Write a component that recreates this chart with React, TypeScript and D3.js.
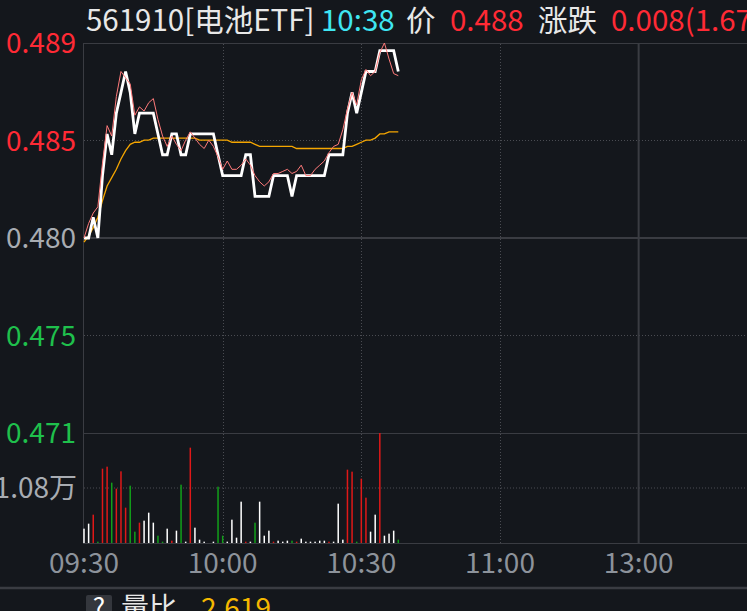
import React from "react";
import * as d3 from "d3";

// ---------- data ----------
const timeTickLabels = ["09:30", "10:00", "10:30", "11:00", "13:00"];
const timeTickMinutes = [0, 30, 60, 90, 120];
const priceLabels = ["0.489", "0.485", "0.480", "0.475", "0.471"];
const preClose = 0.48;
const priceSpan = 0.00937;
const volMax = 21600;
const volLabel = "1.08万";

// per-minute price from 09:30 (index = minutes since 09:30)
const lastPrice = [
  0.48, 0.48, 0.481, 0.48, 0.483, 0.485, 0.484, 0.486, 0.487, 0.488,
  0.487, 0.485, 0.486, 0.486, 0.486, 0.486, 0.485, 0.484, 0.484, 0.485,
  0.485, 0.484, 0.484, 0.485, 0.485, 0.485, 0.485, 0.485, 0.485, 0.484,
  0.483, 0.483, 0.483, 0.483, 0.483, 0.484, 0.484, 0.482, 0.482, 0.482,
  0.482, 0.483, 0.483, 0.483, 0.483, 0.482, 0.483, 0.483, 0.483, 0.483,
  0.483, 0.483, 0.483, 0.484, 0.484, 0.484, 0.484, 0.486, 0.487, 0.486,
  0.487, 0.488, 0.488, 0.488, 0.489, 0.489, 0.489, 0.489, 0.488,
];

const finePrice = [
  0.48, 0.4807, 0.4812, 0.4815, 0.4836, 0.4854, 0.4849, 0.4868, 0.488, 0.4877,
  0.4874, 0.4859, 0.4863, 0.4861, 0.4865, 0.4867, 0.4857, 0.4849, 0.4844, 0.4849,
  0.4845, 0.4842, 0.4847, 0.4851, 0.4848, 0.4845, 0.4843, 0.4847, 0.4844, 0.4839,
  0.4833, 0.4837, 0.4833, 0.4833, 0.4835, 0.4838, 0.4835, 0.483, 0.4827, 0.4825,
  0.4827, 0.4831, 0.4831, 0.4832, 0.4833, 0.4831, 0.4832, 0.4835, 0.483, 0.483,
  0.4833, 0.4835, 0.4837, 0.4841, 0.4844, 0.4845, 0.4852, 0.4862, 0.487, 0.4864,
  0.4876, 0.4881, 0.4878, 0.488, 0.4889, 0.48937, 0.4886, 0.4879, 0.4878,
];

const avgPrice = [
  0.4798, 0.4801, 0.4805, 0.481, 0.4818, 0.4825, 0.4829, 0.4833, 0.4838, 0.4842,
  0.4845, 0.4846, 0.4846, 0.4847, 0.4847, 0.4848, 0.4848, 0.4848, 0.4848, 0.4848,
  0.4848, 0.4848, 0.4848, 0.4848, 0.4848, 0.4847, 0.4847, 0.4847, 0.4847, 0.4847,
  0.4847, 0.4847, 0.4846, 0.4846, 0.4846, 0.4846, 0.4846, 0.4845, 0.4844, 0.4844,
  0.4844, 0.4844, 0.4844, 0.4844, 0.4844, 0.4844, 0.4843, 0.4843, 0.4843, 0.4843,
  0.4843, 0.4843, 0.4843, 0.4843, 0.4843, 0.4843, 0.4843, 0.4844, 0.4844, 0.4845,
  0.4846, 0.4847, 0.4847, 0.4848, 0.485, 0.485, 0.4851, 0.4851, 0.4851,
];

const volumes = [
  2815, 3796, 5564, 262, 14596, 14989, 11847, 10669, 14073, 6938,
  11258, 2225, 3993, 4385, 5956, 3993, 1440, 262, 2815, 458,
  2422, 11455, 262, 18720, 3011, 655, 262, 0, 262, 11062,
  1440, 262, 4582, 1047, 8116, 262, 262, 3993, 8116, 1440,
  2422, 262, 458, 262, 458, 458, 262, 851, 262, 262,
  262, 458, 458, 262, 262, 7724, 655, 14400, 14007, 262,
  12633, 8902, 2225, 5564, 21600, 1440, 1833, 2422, 655,
];

// u = up, d = down, e = unchanged
const volDir = [
  "e", "e", "u", "d", "u", "u", "d", "u", "u", "u",
  "d", "d", "u", "e", "e", "e", "d", "d", "e", "u",
  "e", "d", "e", "u", "e", "e", "e", "e", "e", "d",
  "d", "e", "e", "e", "e", "u", "e", "d", "e", "e",
  "e", "u", "e", "e", "e", "d", "u", "e", "e", "e",
  "e", "e", "e", "u", "e", "e", "e", "u", "u", "d",
  "u", "u", "e", "e", "u", "e", "e", "e", "d",
];

const headerParts = [
  { text: "561910[电池ETF]", x: 86, color: "#e8e8e8" },
  { text: "10:38", x: 321, color: "#3fe6f2" },
  { text: "价", x: 406, color: "#e8e8e8" },
  { text: "0.488", x: 450, color: "#ff2a35" },
  { text: "涨跌", x: 538, color: "#e8e8e8" },
  { text: "0.008(1.67%)", x: 611, color: "#ff2a35" },
];

// ---------- styling ----------
const BG = "#14171c";
const GRID = "#3a3c42";
const DOT = "#4a4c52";
const FONT = "'Noto Sans CJK SC', 'Noto Sans', sans-serif";

export default function App() {
  const W = 747;
  const H = 611;
  const left = 84;
  const pxPerMin = 4.622;
  const x = d3.scaleLinear().domain([0, 240]).range([left, left + 240 * pxPerMin]);
  const y = d3
    .scaleLinear()
    .domain([preClose - priceSpan, preClose + priceSpan])
    .range([433, 43]);
  const yv = d3.scaleLinear().domain([0, volMax]).range([543, 433]);

  const line = d3
    .line<number>()
    .x((_, i) => x(i))
    .y((d) => y(d));

  const labelColors = ["#ff2a35", "#ff2a35", "#a8acb2", "#1fc04c", "#1fc04c"];
  const labelY = [0, 1, 2, 3, 4].map((k) => 43 + (k * 390) / 4);

  const dirColor: Record<string, string> = {
    u: "#e01818",
    d: "#12a01a",
    e: "#ffffff",
  };

  return (
    <div style={{ position: "absolute", left: 0, top: 0 }}>
      <svg width={W} height={H} style={{ display: "block", background: BG }}>
        <rect x={0} y={0} width={W} height={H} fill={BG} />

        {/* header */}
        {headerParts.map((p, i) => (
          <text
            key={i}
            x={p.x}
            y={31}
            fill={p.color}
            fontSize={29.5}
            fontFamily={FONT}
          >
            {p.text}
          </text>
        ))}

        {/* horizontal grid */}
        <line x1={left} x2={W} y1={43.5} y2={43.5} stroke={GRID} strokeWidth={1} />
        <line x1={left} x2={W} y1={labelY[1]} y2={labelY[1]} stroke={DOT} strokeWidth={1} strokeDasharray="1 2" />
        <line x1={left} x2={W} y1={238} y2={238} stroke={GRID} strokeWidth={2} />
        <line x1={left} x2={W} y1={labelY[3]} y2={labelY[3]} stroke={DOT} strokeWidth={1} strokeDasharray="1 2" />
        <line x1={left} x2={W} y1={433.5} y2={433.5} stroke={GRID} strokeWidth={1} />
        <line x1={left} x2={W} y1={yv(volMax / 2)} y2={yv(volMax / 2)} stroke={DOT} strokeWidth={1} strokeDasharray="1 2" />
        <line x1={left} x2={W} y1={543.5} y2={543.5} stroke={GRID} strokeWidth={1} />
        <line x1={0} x2={W} y1={588} y2={588} stroke={GRID} strokeWidth={2.5} />

        {/* vertical grid */}
        <line x1={left - 0.5} x2={left - 0.5} y1={43} y2={544} stroke={GRID} strokeWidth={1} />
        {timeTickMinutes.slice(1, 4).map((m) => (
          <line
            key={m}
            x1={Math.round(x(m)) + 0.5}
            x2={Math.round(x(m)) + 0.5}
            y1={44}
            y2={543}
            stroke={DOT}
            strokeWidth={1}
            strokeDasharray="1 2"
          />
        ))}
        <line x1={x(120)} x2={x(120)} y1={43} y2={544} stroke={GRID} strokeWidth={2} />

        {/* price labels */}
        {priceLabels.map((t, k) => (
          <text
            key={t}
            x={76}
            y={labelY[k] + 10}
            textAnchor="end"
            fill={labelColors[k]}
            fontSize={28}
            fontFamily={FONT}
          >
            {t}
          </text>
        ))}
        <text
          x={77}
          y={yv(volMax / 2) + 10}
          textAnchor="end"
          fill="#a8acb2"
          fontSize={28}
          fontFamily={FONT}
        >
          {volLabel}
        </text>

        {/* volume bars */}
        {volumes.map((v, i) => (
          <rect
            key={i}
            x={x(i) - 0.75}
            y={yv(v)}
            width={1.5}
            height={Math.max(0, yv(0) - yv(v))}
            fill={dirColor[volDir[i]]}
          />
        ))}

        {/* price lines */}
        <path d={line(avgPrice) || ""} fill="none" stroke="#f5a600" strokeWidth={1.3} />
        <path d={line(lastPrice) || ""} fill="none" stroke="#ffffff" strokeWidth={2.8} strokeLinejoin="miter" />
        <path d={line(finePrice) || ""} fill="none" stroke="#ff7a7a" strokeWidth={1} />

        {/* time labels */}
        {timeTickLabels.map((t, k) => (
          <text
            key={t}
            x={x(timeTickMinutes[k])}
            y={573}
            textAnchor="middle"
            fill="#8d939b"
            fontSize={28}
            fontFamily={FONT}
          >
            {t}
          </text>
        ))}

        {/* bottom indicator row */}
        <rect x={86} y={595} width={26} height={22} rx={2} fill="#34373d" />
        <text x={99} y={617} textAnchor="middle" fill="#ffffff" fontSize={26} fontFamily={FONT}>
          ?
        </text>
        <text x={121} y={618} fill="#e8e8e8" fontSize={28} fontFamily={FONT}>
          量比
        </text>
        <text x={201} y={618} fill="#f5b800" fontSize={28} fontFamily={FONT}>
          2.619
        </text>
      </svg>
    </div>
  );
}
